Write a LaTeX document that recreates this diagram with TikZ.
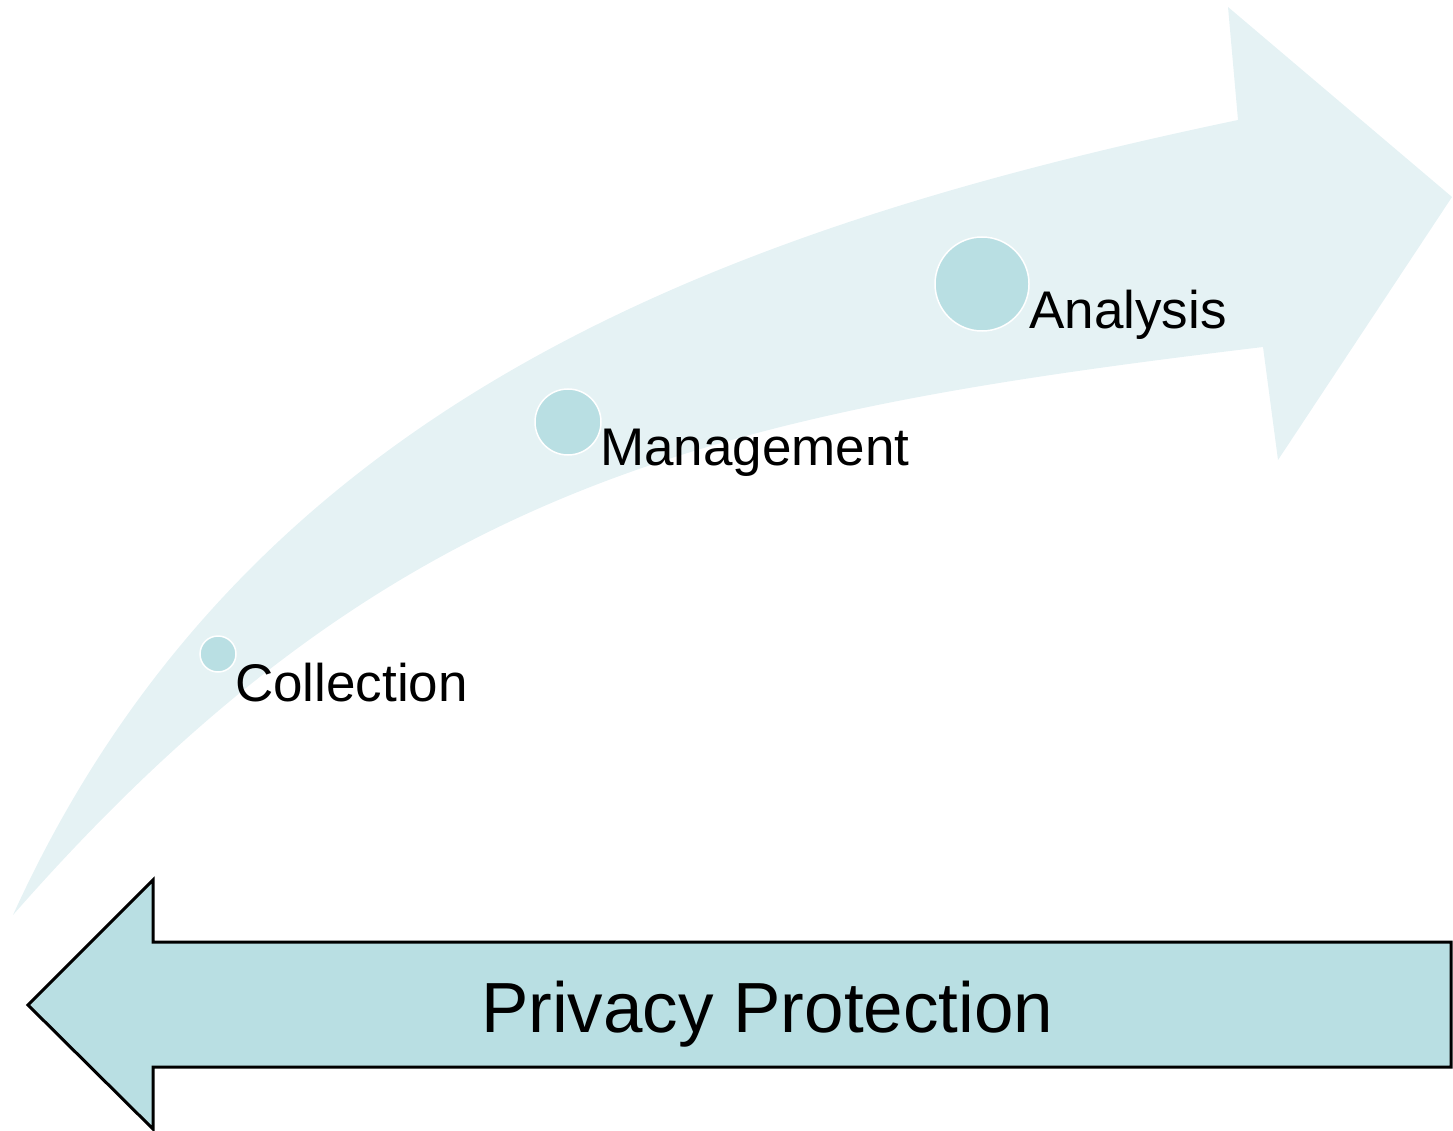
\documentclass[tikz,border=0pt]{standalone}
\usepackage{fontspec}
\setmainfont{Liberation Sans}
\definecolor{bandfill}{HTML}{E5F2F4}
\definecolor{dotfill}{HTML}{B9DFE3}
\definecolor{arrowfill}{HTML}{B9DFE3}
\tikzset{
  stage/.style={circle, fill=dotfill, draw=white, line width=1.5pt, inner sep=0pt},
  stagelabel/.style={anchor=base west, inner sep=0pt, font=\fontsize{53}{60}\selectfont},
  backarrow/.style={fill=arrowfill, draw=black, line width=3pt, line join=miter},
}
\begin{document}
\begin{tikzpicture}[x=1pt, y=-1pt]
\useasboundingbox (0,0) rectangle (1453,1131);

% rising curved arrow
\fill[bandfill]
  (13,915) .. controls (243,409) and (708,231) .. (1238,120)
  -- (1228,7) -- (1452,197) -- (1278,460) -- (1263,347)
  .. controls (713,413) and (393,482) .. (13,915)
  -- cycle;

% stages along the arrow
\node[stage, minimum size=36pt] (collect) at (218,654) {};
\node[stage, minimum size=66pt] (manage) at (568,422) {};
\node[stage, minimum size=94pt] (analyse) at (982,284) {};
\node[stagelabel] (collectlbl) at (235,701) {Collection};
\node[stagelabel] (managelbl) at (600,465) {Management};
\node[stagelabel] (analyselbl) at (1029,329) {Analysis};

% left-pointing block arrow
\draw[backarrow] (28,1005) -- (153,880) -- (153,942) -- (1451,942) -- (1451,1067)
  -- (153,1067) -- (153,1129) -- cycle;
\node[anchor=base west, inner sep=0pt, font=\fontsize{71}{80}\selectfont] (privacy) at (481,1032) {Privacy Protection};
\end{tikzpicture}
\end{document}
